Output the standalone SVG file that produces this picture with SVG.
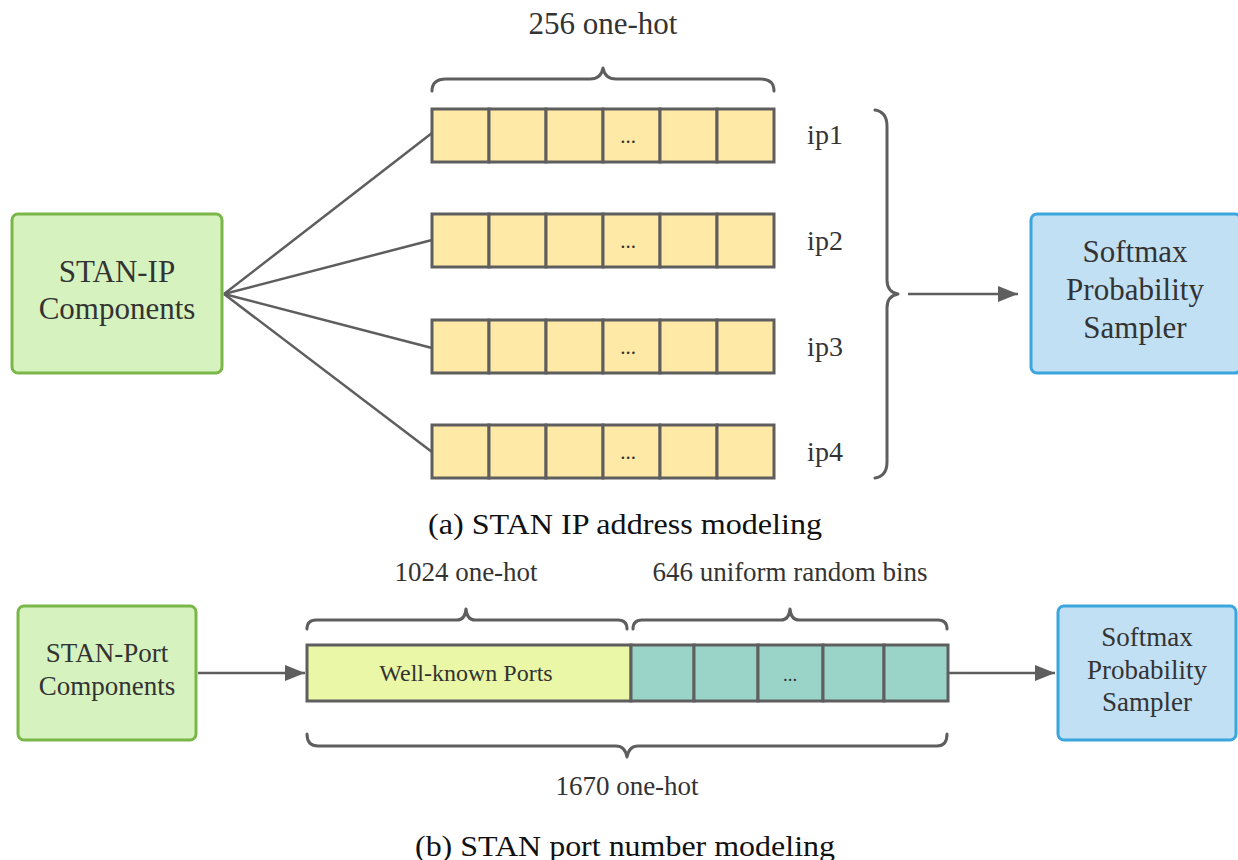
<svg xmlns="http://www.w3.org/2000/svg" width="1238" height="860" viewBox="0 0 1238 860">
  <style>
    .lbl { font-family: "Liberation Serif", "DejaVu Serif", serif; fill: #333333; text-anchor: middle; dominant-baseline: central; }
    .cap { font-family: "Liberation Serif", "DejaVu Serif", serif; fill: #111111; text-anchor: middle; dominant-baseline: central; font-size: 29px; }
    .green { fill: #d5f2bf; stroke: #7ab648; stroke-width: 3; }
    .blue { fill: #c1e0f4; stroke: #3aa6dd; stroke-width: 3; }
    .cell { fill: #ffe9a6; stroke: #5e5e5e; stroke-width: 3; }
    .wk { fill: #e9f7a6; stroke: #5e5e5e; stroke-width: 3; }
    .teal { fill: #9ad4c8; stroke: #5e5e5e; stroke-width: 3; }
    .brace { fill: none; stroke: #5e5e5e; stroke-width: 3; stroke-linecap: round; stroke-linejoin: round; }
    .edge { fill: none; stroke: #5e5e5e; stroke-width: 2.5; }
  </style>
  <defs>
    <marker id="arrow" viewBox="0 0 20 16" refX="20" refY="8" markerWidth="20" markerHeight="16" markerUnits="userSpaceOnUse" orient="auto">
      <path d="M0,0 L20,8 L0,16 Z" fill="#5e5e5e"/>
    </marker>
  </defs>

  <rect width="1238" height="860" fill="#ffffff"/>

  <!-- connectors -->
  <g id="connectors">
    <line class="edge" x1="224" y1="294" x2="432" y2="133"/>
    <line class="edge" x1="224" y1="294" x2="432" y2="240"/>
    <line class="edge" x1="224" y1="294" x2="432" y2="348"/>
    <line class="edge" x1="224" y1="294" x2="432" y2="452"/>
    <line class="edge" x1="908" y1="294" x2="1018" y2="294" marker-end="url(#arrow)"/>
    <line class="edge" x1="198" y1="673" x2="305" y2="673" marker-end="url(#arrow)"/>
    <line class="edge" x1="949" y1="673" x2="1055" y2="673" marker-end="url(#arrow)"/>
  </g>

  <!-- (a) IP address modeling -->
  <g id="stan-ip">
    <rect class="green" x="12" y="214" width="210" height="159" rx="6"/>
    <text class="lbl" x="117" y="271" font-size="31">STAN-IP</text>
    <text class="lbl" x="117" y="308" font-size="31">Components</text>
  </g>

  <g id="onehot-brace">
    <text class="lbl" x="603" y="23" font-size="31">256 one-hot</text>
    <path class="brace" d="M432,91 Q432,79 446,79 L590,79 Q601,79 603,68 Q605,79 616,79 L760,79 Q774,79 774,91"/>
  </g>

  <g id="ip1">
    <rect class="cell" x="432" y="109" width="57" height="53"/>
    <rect class="cell" x="489" y="109" width="57" height="53"/>
    <rect class="cell" x="546" y="109" width="57" height="53"/>
    <rect class="cell" x="603" y="109" width="57" height="53"/>
    <rect class="cell" x="660" y="109" width="57" height="53"/>
    <rect class="cell" x="717" y="109" width="57" height="53"/>
    <text class="lbl" x="628" y="136" font-size="21">...</text>
    <text class="lbl" x="825" y="134" font-size="28">ip1</text>
  </g>
  <g id="ip2">
    <rect class="cell" x="432" y="214" width="57" height="53"/>
    <rect class="cell" x="489" y="214" width="57" height="53"/>
    <rect class="cell" x="546" y="214" width="57" height="53"/>
    <rect class="cell" x="603" y="214" width="57" height="53"/>
    <rect class="cell" x="660" y="214" width="57" height="53"/>
    <rect class="cell" x="717" y="214" width="57" height="53"/>
    <text class="lbl" x="628" y="241" font-size="21">...</text>
    <text class="lbl" x="825" y="240" font-size="28">ip2</text>
  </g>
  <g id="ip3">
    <rect class="cell" x="432" y="320" width="57" height="53"/>
    <rect class="cell" x="489" y="320" width="57" height="53"/>
    <rect class="cell" x="546" y="320" width="57" height="53"/>
    <rect class="cell" x="603" y="320" width="57" height="53"/>
    <rect class="cell" x="660" y="320" width="57" height="53"/>
    <rect class="cell" x="717" y="320" width="57" height="53"/>
    <text class="lbl" x="628" y="347" font-size="21">...</text>
    <text class="lbl" x="825" y="346" font-size="28">ip3</text>
  </g>
  <g id="ip4">
    <rect class="cell" x="432" y="425" width="57" height="53"/>
    <rect class="cell" x="489" y="425" width="57" height="53"/>
    <rect class="cell" x="546" y="425" width="57" height="53"/>
    <rect class="cell" x="603" y="425" width="57" height="53"/>
    <rect class="cell" x="660" y="425" width="57" height="53"/>
    <rect class="cell" x="717" y="425" width="57" height="53"/>
    <text class="lbl" x="628" y="452" font-size="21">...</text>
    <text class="lbl" x="825" y="451" font-size="28">ip4</text>
  </g>

  <g id="ip-group-brace">
    <path class="brace" d="M875,110 Q887,112 887,126 L887,280 Q887,292 898,294 Q887,296 887,308 L887,462 Q887,476 875,478"/>
  </g>

  <g id="softmax-ip">
    <rect class="blue" x="1031" y="214" width="210" height="159" rx="6"/>
    <text class="lbl" x="1135" y="251" font-size="31">Softmax</text>
    <text class="lbl" x="1135" y="289" font-size="31">Probability</text>
    <text class="lbl" x="1135" y="327" font-size="31">Sampler</text>
  </g>

  <text class="cap" x="625" y="524" textLength="394" lengthAdjust="spacingAndGlyphs">(a) STAN IP address modeling</text>

  <!-- (b) port number modeling -->
  <g id="stan-port">
    <rect class="green" x="18" y="606" width="178" height="134" rx="6"/>
    <text class="lbl" x="107" y="653" font-size="27">STAN-Port</text>
    <text class="lbl" x="107" y="686" font-size="27">Components</text>
  </g>

  <g id="port-braces">
    <text class="lbl" x="466" y="572" font-size="27">1024 one-hot</text>
    <path class="brace" d="M307,629 Q307,620 316,620 L457,620 Q465,620 466,609 Q467,620 475,620 L618,620 Q627,620 627,629"/>
    <text class="lbl" x="790" y="572" font-size="27">646 uniform random bins</text>
    <path class="brace" d="M633,629 Q633,620 642,620 L781,620 Q789,620 790,609 Q791,620 799,620 L938,620 Q947,620 947,629"/>
    <path class="brace" d="M307,734 Q307,746 318,746 L616,746 Q625,746 627,757 Q629,746 638,746 L937,746 Q947,746 947,734"/>
    <text class="lbl" x="627" y="786" font-size="27">1670 one-hot</text>
  </g>

  <g id="port-vector">
    <rect class="wk" x="307" y="645" width="324" height="56"/>
    <text class="lbl" x="466" y="673" font-size="24">Well-known Ports</text>
    <rect class="teal" x="631" y="645" width="63" height="56"/>
    <rect class="teal" x="694" y="645" width="64" height="56"/>
    <rect class="teal" x="758" y="645" width="65" height="56"/>
    <rect class="teal" x="823" y="645" width="61" height="56"/>
    <rect class="teal" x="884" y="645" width="64" height="56"/>
    <text class="lbl" x="790" y="674" font-size="19">...</text>
  </g>

  <g id="softmax-port">
    <rect class="blue" x="1058" y="606" width="178" height="134" rx="6"/>
    <text class="lbl" x="1147" y="637" font-size="27">Softmax</text>
    <text class="lbl" x="1147" y="670" font-size="27">Probability</text>
    <text class="lbl" x="1147" y="702" font-size="27">Sampler</text>
  </g>

  <text class="cap" x="625" y="846" textLength="420" lengthAdjust="spacingAndGlyphs">(b) STAN port number modeling</text>
</svg>
